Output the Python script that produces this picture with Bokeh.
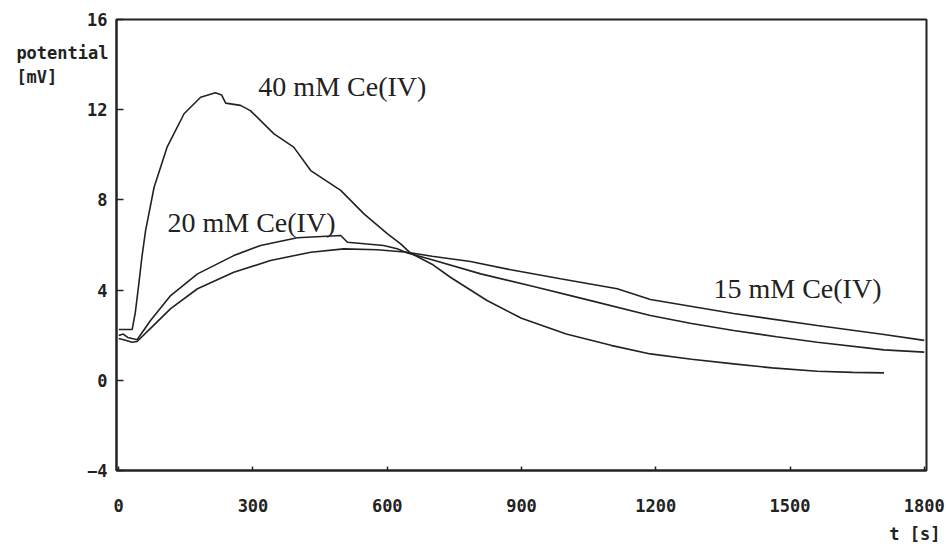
from bokeh.plotting import figure
from bokeh.models import Range1d, FixedTicker, ColumnDataSource, Title, LinearAxis
from bokeh.core.properties import value
from bokeh.embed import file_html
from bokeh.resources import INLINE

# ---- data ----
t40 = [0, 30, 37, 45, 52, 60, 79, 108, 146, 183, 216, 230, 239, 272, 294, 347, 391,
       429, 496, 548, 600, 630, 652, 700, 741, 823, 900, 1000, 1100, 1188, 1280,
       1374, 1460, 1561, 1640, 1710]
v40 = [2.25, 2.25, 3.0, 4.3, 5.5, 6.64, 8.56, 10.34, 11.82, 12.55, 12.75, 12.65,
       12.29, 12.19, 11.96, 10.93, 10.34, 9.30, 8.42, 7.38, 6.50, 6.05, 5.64, 5.15,
       4.57, 3.54, 2.75, 2.05, 1.55, 1.17, 0.93, 0.73, 0.55, 0.40, 0.35, 0.33]

t20 = [0, 10, 20, 30, 41, 71, 116, 176, 257, 317, 399, 496, 511, 592, 622, 645,
       700, 809, 927, 1039, 1188, 1280, 1374, 1470, 1561, 1710, 1800]
v20 = [1.99, 2.05, 1.90, 1.85, 1.80, 2.65, 3.76, 4.72, 5.53, 5.98, 6.32, 6.42,
       6.12, 5.98, 5.83, 5.65, 5.35, 4.72, 4.16, 3.61, 2.87, 2.52, 2.21, 1.93,
       1.69, 1.35, 1.25]

t15 = [0, 15, 30, 41, 71, 116, 176, 257, 339, 429, 503, 578, 645, 700, 786, 876,
       987, 1114, 1188, 1374, 1561, 1710, 1800]
v15 = [1.85, 1.78, 1.69, 1.72, 2.30, 3.18, 4.06, 4.79, 5.31, 5.68, 5.83, 5.79,
       5.68, 5.50, 5.27, 4.90, 4.50, 4.06, 3.58, 2.96, 2.43, 2.03, 1.77]

x_ticks = [0, 300, 600, 900, 1200, 1500, 1800]
y_ticks = [-4, 0, 4, 8, 12, 16]

y_title = "potential\n[mV]" + "\u00a0" * 5
y_title_at = 14
x_title = "t [s]"

curve_labels = ["40 mM Ce(IV)", "20 mM Ce(IV)", "15 mM Ce(IV)"]
label_x = [312, 109, 1329]
label_y = [13.03, 7.0, 4.07]

INK = "#222222"
MONO = "DejaVu Sans Mono"

p = figure(width=946, height=551, output_backend="svg", toolbar_location=None,
           x_range=Range1d(-5, 1805), y_range=Range1d(-4, 16),
           min_border_left=116, min_border_right=20,
           min_border_top=19, min_border_bottom=81)
p.background_fill_color = "white"
p.border_fill_color = "white"
p.grid.visible = False
p.outline_line_color = INK
p.outline_line_width = 2


def style(ax):
    ax.axis_line_color = INK
    ax.axis_line_width = 2
    ax.major_tick_line_color = INK
    ax.major_tick_line_width = 1.5
    ax.minor_tick_line_color = None
    ax.major_label_text_font = MONO
    ax.major_label_text_font_style = "bold"
    ax.major_label_text_font_size = "17px"
    ax.major_label_text_color = INK


for ax in (p.xaxis, p.yaxis):
    style(ax)

p.xaxis.ticker = FixedTicker(ticks=x_ticks)
p.xaxis.major_tick_in = 4
p.xaxis.major_tick_out = 0
p.xaxis.major_label_standoff = 28

p.yaxis.ticker = FixedTicker(ticks=y_ticks)
p.yaxis.major_tick_in = 7
p.yaxis.major_tick_out = 0
p.yaxis.major_label_standoff = 9

# outer left axis carrying only the two-line axis title, pulled back over the numbers
title_axis = LinearAxis(ticker=FixedTicker(ticks=[y_title_at]),
                        major_label_overrides={y_title_at: y_title})
style(title_axis)
title_axis.axis_line_color = None
title_axis.major_tick_line_color = None
title_axis.major_tick_in = 0
title_axis.major_tick_out = 0
title_axis.major_label_standoff = -24
p.add_layout(title_axis, "left")

for t, v in ((t40, v40), (t20, v20), (t15, v15)):
    p.line(t, v, line_color=INK, line_width=1.6)

src = ColumnDataSource(dict(x=label_x, y=label_y, text=curve_labels))
p.text(x="x", y="y", text="text", source=src, text_font=value("Liberation Serif"),
       text_font_size="28px", text_color=INK, text_baseline="alphabetic",
       text_align="left")

p.add_layout(Title(text=x_title, align="right", offset=-14, text_font=MONO,
                   text_font_style="bold", text_font_size="17px", text_color=INK,
                   standoff=14), "below")

open("out.html", "w").write(file_html(p, INLINE))
